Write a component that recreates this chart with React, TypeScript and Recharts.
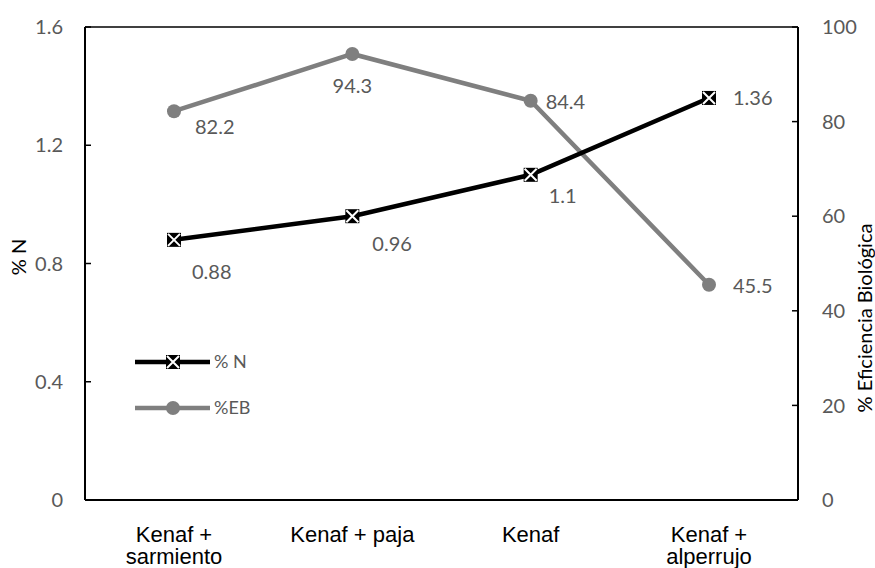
import { LineChart, Line, XAxis, YAxis, ReferenceLine, LabelList } from 'recharts';

const categories = ['Kenaf +\nsarmiento', 'Kenaf + paja', 'Kenaf', 'Kenaf +\nalperrujo'];
const nitrogen = [0.88, 0.96, 1.1, 1.36];
const efficiency = [82.2, 94.3, 84.4, 45.5];
const nTicks = [0, 0.4, 0.8, 1.2, 1.6];
const ebTicks = [0, 20, 40, 60, 80, 100];

const data = categories.map((name, i) => ({ name, n: nitrogen[i], eb: efficiency[i] }));

// label offsets (dx, dy, anchor) for each point
const nLabelPos: [number, number, string][] = [
  [18, 32, 'start'],
  [20, 28, 'start'],
  [18, 21, 'start'],
  [24, 0, 'start'],
];
const ebLabelPos: [number, number, string][] = [
  [21, 16, 'start'],
  [0, 32, 'middle'],
  [15, 1, 'start'],
  [24, 1, 'start'],
];

const GREY = '#7f7f7f';
const TEXT = '#595959';
const NUM_FONT = 'Lato, "Open Sans", sans-serif';

function XSquare({ cx, cy, size = 7 }: any) {
  if (cx == null || cy == null) return null;
  const s = size - 1;
  return (
    <g>
      <rect x={cx - size} y={cy - size} width={size * 2} height={size * 2} fill="#000" />
      <path
        d={`M${cx - s},${cy - s}L${cx + s},${cy + s}M${cx + s},${cy - s}L${cx - s},${cy + s}`}
        stroke="#fff"
        strokeWidth={2}
      />
    </g>
  );
}

function makeLabel(pos: [number, number, string][]) {
  return (props: any) => {
    const { x, y, value, index } = props;
    const [dx, dy, anchor] = pos[index];
    return (
      <text
        x={x + dx}
        y={y + dy}
        dy="0.35em"
        textAnchor={anchor}
        fill={TEXT}
        fontSize={20}
        fontFamily={NUM_FONT}
      >
        {value}
      </text>
    );
  };
}

function CategoryTick({ x, y, payload }: any) {
  const lines = String(payload.value).split('\n');
  return (
    <g>
      {lines.map((l, i) => (
        <text
          key={i}
          x={x}
          y={y + 34 + i * 22}
          textAnchor="middle"
          fill="#000"
          fontSize={22}
          fontFamily='"Liberation Sans", Arial, sans-serif'
        >
          {l}
        </text>
      ))}
    </g>
  );
}

// legend drawn as an overlay inside the plot area
function LegendBox() {
  return (
    <svg width={140} height={80} style={{ position: 'absolute', left: 127, top: 345 }}>
      <line x1={8} y1={17} x2={83} y2={17} stroke="#000" strokeWidth={4.5} />
      <XSquare cx={46} cy={17} />
      <text x={87} y={17} dy="0.35em" fill={TEXT} fontSize={18} fontFamily={NUM_FONT}>% N</text>
      <line x1={8} y1={63} x2={83} y2={63} stroke={GREY} strokeWidth={4.5} />
      <circle cx={46} cy={63} r={7} fill={GREY} />
      <text x={87} y={63} dy="0.35em" fill={TEXT} fontSize={18} fontFamily={NUM_FONT}>%EB</text>
    </svg>
  );
}

const tickStyle = { fill: TEXT, fontSize: 20, fontFamily: NUM_FONT };

function AxisTitle({ x, y, text }: { x: number; y: number; text: string }) {
  return (
    <text
      x={x}
      y={y}
      transform={`rotate(-90 ${x} ${y})`}
      textAnchor="middle"
      dy="0.35em"
      fill="#000"
      fontSize={20}
      fontFamily={NUM_FONT}
    >
      {text}
    </text>
  );
}

export default function App() {
  return (
    <div style={{ position: 'absolute', left: 0, top: 0, width: 875, height: 568, background: '#fff' }}>
      <LineChart width={875} height={568} data={data} margin={{ top: 27, right: 17, bottom: 18, left: 25 }}>
        <XAxis
          dataKey="name"
          height={50}
          padding={{ left: 89, right: 89 }}
          tickLine={false}
          axisLine={{ stroke: '#000', strokeWidth: 2 }}
          tick={<CategoryTick />}
          interval={0}
        />
        <YAxis
          yAxisId="left"
          width={60}
          domain={[0, 1.6]}
          ticks={nTicks}
          tickSize={-6}
          tickMargin={28}
          tickLine={{ stroke: '#000', strokeWidth: 1.5 }}
          axisLine={{ stroke: '#000', strokeWidth: 2 }}
          tick={tickStyle}
          label={{ value: '% N', content: () => <AxisTitle x={19} y={257} text="% N" /> }}
        />
        <YAxis
          yAxisId="right"
          orientation="right"
          width={60}
          domain={[0, 100]}
          ticks={ebTicks}
          tickSize={-6}
          tickMargin={30}
          tickLine={{ stroke: '#000', strokeWidth: 1.5 }}
          axisLine={{ stroke: '#000', strokeWidth: 2 }}
          tick={tickStyle}
          label={{
            value: '% Eficiencia Biológica',
            content: () => <AxisTitle x={865} y={318} text="% Eficiencia Biológica" />,
          }}
        />
        <ReferenceLine yAxisId="left" y={1.6} stroke="#000" strokeWidth={1.5} />
        <Line
          yAxisId="right"
          dataKey="eb"
          name="%EB"
          stroke={GREY}
          strokeWidth={4.5}
          dot={{ r: 7, fill: GREY, stroke: GREY, strokeWidth: 0 }}
          activeDot={false}
          isAnimationActive={false}
        >
          <LabelList dataKey="eb" content={makeLabel(ebLabelPos)} />
        </Line>
        <Line
          yAxisId="left"
          dataKey="n"
          name="% N"
          stroke="#000"
          strokeWidth={4.5}
          dot={<XSquare />}
          activeDot={false}
          isAnimationActive={false}
        >
          <LabelList dataKey="n" content={makeLabel(nLabelPos)} />
        </Line>
      </LineChart>
      <LegendBox />
    </div>
  );
}
